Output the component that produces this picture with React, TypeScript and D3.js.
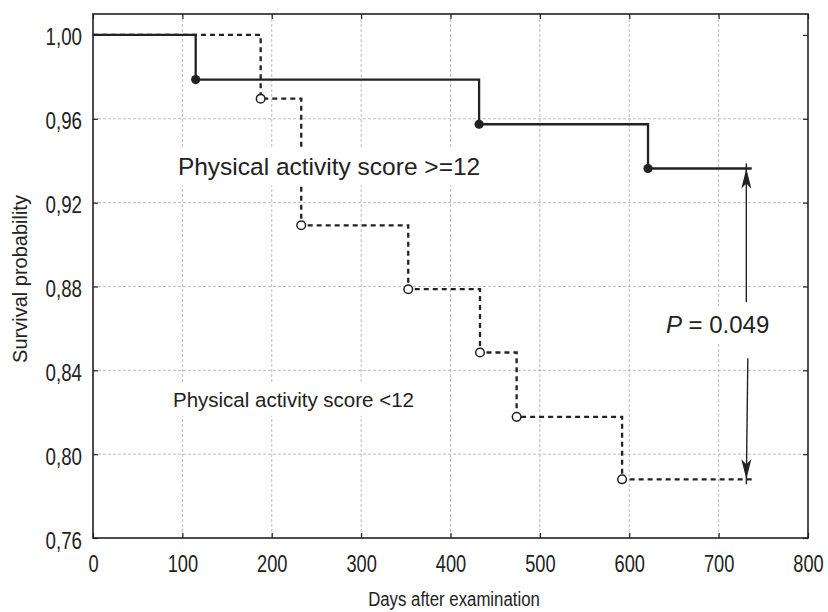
import React, { useEffect, useRef } from "react";
import * as d3 from "d3";

// axis ticks
const xTicks = [0, 100, 200, 300, 400, 500, 600, 700, 800];
const yTicks = [0.76, 0.8, 0.84, 0.88, 0.92, 0.96, 1.0];
const yTickLabels = ["0,76", "0,80", "0,84", "0,88", "0,92", "0,96", "1,00"];

// Physical activity score >= 12 (solid, filled dots)
const highDays = [114.9, 432, 621];
const highSurv = [0.9787, 0.9574, 0.9363];

// Physical activity score < 12 (dashed, open circles)
const lowDays = [187.6, 233, 352.7, 433, 474, 592];
const lowSurv = [0.9696, 0.9092, 0.8787, 0.8485, 0.8178, 0.788];

const lastFollowUp = 737;
const pValueDay = 731;

const W = 828;
const H = 612;
const margin = { top: 14, right: 20, bottom: 74, left: 93 };
const ink = "#222";
const font = "'Liberation Sans', Arial, sans-serif";

function App() {
  const ref = useRef<SVGSVGElement | null>(null);

  useEffect(() => {
    const svg = d3.select(ref.current);
    svg.selectAll("*").remove();

    const x = d3.scaleLinear().domain([0, 800]).range([margin.left, W - margin.right]);
    const y = d3.scaleLinear().domain([0.76, 1.01]).range([H - margin.bottom, margin.top]);
    const x0 = x.range()[0], x1 = x.range()[1];
    const y0 = y.range()[0], y1 = y.range()[1];

    svg.append("rect").attr("width", W).attr("height", H).attr("fill", "#fff");

    // GRID
    const grid = svg.append("g").attr("stroke", "#b5b5b5").attr("stroke-width", 0.9)
      .attr("stroke-dasharray", "3,2");
    grid.selectAll("line.gx").data(xTicks.slice(1, -1)).enter().append("line")
      .attr("x1", d => x(d)).attr("x2", d => x(d)).attr("y1", y1).attr("y2", y0);
    grid.selectAll("line.gy").data(yTicks.slice(1, -1)).enter().append("line")
      .attr("y1", d => y(d)).attr("y2", d => y(d)).attr("x1", x0).attr("x2", x1);

    // CURVES
    const line = d3.line<[number, number]>()
      .x(d => x(d[0])).y(d => y(d[1]))
      .curve(d3.curveStepAfter);

    const lowPts: [number, number][] = [[0, 1]];
    lowDays.forEach((d, i) => lowPts.push([d, lowSurv[i]]));
    lowPts.push([lastFollowUp, lowSurv[lowSurv.length - 1]]);

    const highPts: [number, number][] = [[0, 1]];
    highDays.forEach((d, i) => highPts.push([d, highSurv[i]]));
    highPts.push([lastFollowUp, highSurv[highSurv.length - 1]]);

    svg.append("path").attr("d", line(lowPts)).attr("fill", "none")
      .attr("stroke", ink).attr("stroke-width", 2.3).attr("stroke-dasharray", "5,4");
    svg.append("path").attr("d", line(highPts)).attr("fill", "none")
      .attr("stroke", ink).attr("stroke-width", 2.3);

    svg.selectAll("circle.low").data(lowDays).enter().append("circle")
      .attr("cx", d => x(d)).attr("cy", (d, i) => y(lowSurv[i])).attr("r", 4.3)
      .attr("fill", "#fff").attr("stroke", ink).attr("stroke-width", 1.5);
    svg.selectAll("circle.high").data(highDays).enter().append("circle")
      .attr("cx", d => x(d)).attr("cy", (d, i) => y(highSurv[i])).attr("r", 4.6)
      .attr("fill", ink);

    // LABELS with white boxes
    const boxed = (txt: d3.Selection<SVGTextElement, unknown, null, undefined>, pad: number) => {
      const b = (txt.node() as SVGTextElement).getBBox();
      svg.insert("rect", () => txt.node())
        .attr("x", b.x - pad).attr("y", b.y - pad)
        .attr("width", b.width + 2 * pad).attr("height", b.height + 2 * pad)
        .attr("fill", "#fff");
    };

    const tHigh = svg.append("text").attr("x", x(95)).attr("y", y(0.9331))
      .attr("font-family", font).attr("font-size", 24.5).attr("fill", ink)
      .text("Physical activity score >=12");
    boxed(tHigh, 5);

    const tLow = svg.append("text").attr("x", x(89.5)).attr("y", y(0.8226))
      .attr("font-family", font).attr("font-size", 20.5).attr("fill", ink)
      .text("Physical activity score <12");
    boxed(tLow, 5);

    const pBase = y(0.8577);
    const tP = svg.append("text").attr("x", x(641)).attr("y", pBase)
      .attr("font-family", font).attr("font-size", 24).attr("fill", ink);
    tP.append("tspan").attr("font-style", "italic").text("P");
    tP.append("tspan").text(" = 0.049");
    boxed(tP, 5);

    // P-value arrow
    const ax = x(pValueDay);
    const aTop = y(highSurv[highSurv.length - 1]);
    const aBot = y(lowSurv[lowSurv.length - 1]);
    const arrow = svg.append("g").attr("stroke", ink).attr("stroke-width", 1.4);
    arrow.append("line").attr("x1", ax).attr("x2", ax).attr("y1", aTop - 5).attr("y2", pBase - 31);
    arrow.append("line").attr("x1", ax + 1.5).attr("x2", ax).attr("y1", pBase + 25).attr("y2", aBot + 5);
    svg.append("path").attr("d", `M${ax},${aTop} l-5,20 l5,-5 l5,5 z`).attr("fill", ink);
    svg.append("path").attr("d", `M${ax},${aBot} l-5,-20 l5,5 l5,-5 z`).attr("fill", ink);

    // AXES
    const bottom = svg.append("g").attr("transform", `translate(0,${y0})`)
      .call(d3.axisBottom(x).tickValues(xTicks).tickSizeInner(-5).tickSizeOuter(0).tickFormat(d => String(d)));
    bottom.selectAll("text").attr("y", null).attr("dy", null)
      .attr("transform", "translate(0,34) scale(0.76,1)");

    const left = svg.append("g").attr("transform", `translate(${x0},0)`)
      .call(d3.axisLeft(y).tickValues(yTicks).tickSizeInner(-5).tickSizeOuter(0)
        .tickFormat((d, i) => yTickLabels[i]));
    left.selectAll("text").attr("x", null).attr("dy", null)
      .attr("transform", "translate(-11,10) scale(0.78,1)");

    svg.append("g").attr("transform", `translate(0,${y1})`)
      .call(d3.axisTop(x).tickValues(xTicks).tickSizeInner(-5).tickSizeOuter(0).tickFormat(() => ""));
    svg.append("g").attr("transform", `translate(${x1},0)`)
      .call(d3.axisRight(y).tickValues(yTicks).tickSizeInner(-5).tickSizeOuter(0).tickFormat(() => ""));

    svg.selectAll(".domain").remove();
    svg.selectAll(".tick line").attr("stroke", ink).attr("stroke-width", 1.2);
    svg.selectAll(".tick text").attr("font-family", font).attr("font-size", 24).attr("fill", ink);

    svg.append("rect").attr("x", x0).attr("y", y1).attr("width", x1 - x0).attr("height", y0 - y1)
      .attr("fill", "none").attr("stroke", ink).attr("stroke-width", 1.6);

    // AXIS TITLES
    svg.append("text").attr("transform", "translate(454,606) scale(0.8,1)")
      .attr("text-anchor", "middle").attr("font-family", font).attr("font-size", 21).attr("fill", ink)
      .text("Days after examination");
    svg.append("text").attr("transform", "translate(27,279) rotate(-90)")
      .attr("text-anchor", "middle").attr("font-family", font).attr("font-size", 20).attr("fill", ink)
      .text("Survival probability");
  }, []);

  return (
    <svg ref={ref} width={W} height={H} style={{ position: "absolute", left: 0, top: 0 }} />
  );
}

export default App;
